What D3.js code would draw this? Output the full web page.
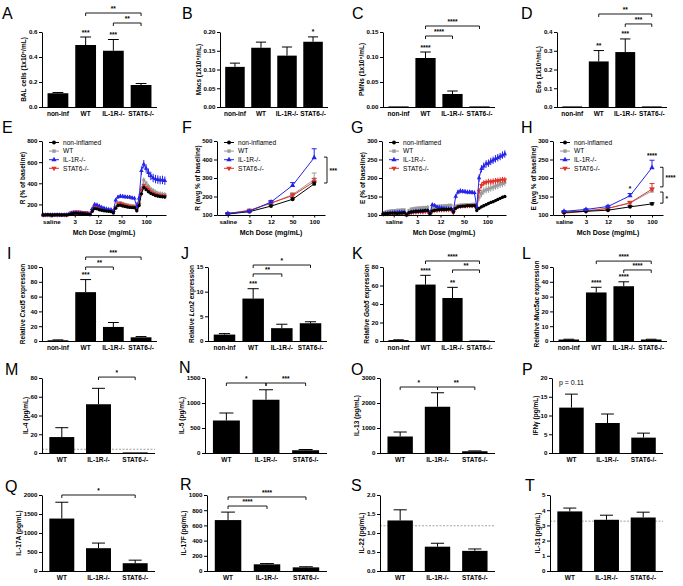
<!DOCTYPE html>
<html><head><meta charset="utf-8">
<script src="https://cdn.jsdelivr.net/npm/d3@7"></script>
<style>body{margin:0;background:#fff}</style>
</head><body><svg id="chart" width="683" height="586"></svg>
<script>
// ---------------- DATA ----------------
const cats4 = ["non-inf", "WT", "IL-1R-/-", "STAT6-/-"];
const cats3 = ["WT", "IL-1R-/-", "STAT6-/-"];
const doses = ["saline", "3", "12", "50", "100"];
const groups = ["non-inflamed", "WT", "IL-1R-/-", "STAT6-/-"];

const balCells = [0.11, 0.496, 0.45, 0.176];
const balCellsErr = [0.006, 0.064, 0.09, 0.012];
const macs = [0.107, 0.158, 0.137, 0.174];
const macsErr = [0.01, 0.015, 0.023, 0.013];
const pmns = [0, 0.098, 0.026, 0.001];
const pmnsErr = [0, 0.012, 0.006, 0];
const eos = [0, 0.243, 0.293, 0];
const eosErr = [0, 0.058, 0.07, 0];

const cxcl5 = [1, 66, 19, 5];
const cxcl5Err = [0.5, 17, 6, 1];
const lcn2 = [1.3, 8.6, 2.6, 3.6];
const lcn2Err = [0.2, 2.0, 0.8, 0.3];
const gob5 = [1, 61, 46.5, 0.3];
const gob5Err = [0.3, 10, 11.5, 0];
const muc5ac = [1, 32.8, 37, 1];
const muc5acErr = [0.2, 3.5, 3, 0.2];

const il4 = [17, 52, 0];          const il4Err = [10, 17, 0];        const il4Lod = 4;
const il5 = [650, 1065, 55];      const il5Err = [150, 200, 15];
const il13 = [660, 1850, 70];     const il13Err = [180, 560, 15];
const ifng = [12.1, 8.0, 4.1];    const ifngErr = [3.6, 2.4, 1.2];
const il17a = [1380, 600, 205];   const il17aErr = [430, 135, 80];
const il17f = [670, 88, 48];      const il17fErr = [105, 10, 8];
const il22 = [1.33, 0.64, 0.53];  const il22Err = [0.28, 0.09, 0.05]; const il22Lod = 1.19;
const il31 = [3.92, 3.37, 3.52];  const il31Err = [0.22, 0.3, 0.35];  const il31Lod = 3.28;

// E: R (% of baseline), continuous recording, 5 dose segments
const eNonInf = [100,101,102,101,100,101,102,101,100,101,
  96,104,110,114,116,115,114,112,110,108,
  104,135,160,158,150,145,140,137,135,132,
  120,165,190,192,185,180,176,172,170,168,
  140,190,300,360,340,320,305,295,285,280,275,272,270];
const eWT = [100,100,101,102,101,100,101,101,102,101,
  98,106,114,118,120,119,117,115,113,112,
  106,140,175,172,162,155,150,146,142,140,
  125,180,215,218,210,202,196,192,188,186,
  150,210,350,430,400,370,345,330,315,305,300,295,292];
const eIL1R = [100,101,102,101,101,100,102,101,101,102,
  98,108,118,122,122,120,118,116,114,112,
  108,160,200,195,185,172,165,158,152,150,
  140,240,270,278,275,272,270,268,262,258,
  180,260,520,580,540,500,470,450,440,435,430,432,425];
const eSTAT6 = [100,101,101,100,102,101,100,101,102,101,
  100,110,122,128,130,129,127,125,122,120,
  106,145,178,175,165,156,150,146,142,139,
  125,170,205,208,200,193,188,183,180,178,
  150,200,330,380,360,340,320,305,295,288,283,280,278];
const eNonInfErr = [2, 3, 5, 6, 12];
const eWTErr = [2, 4, 8, 10, 25];
const eIL1RErr = [2, 4, 10, 18, 40];
const eSTAT6Err = [2, 4, 8, 10, 20];

// G: E (% of baseline)
const gNonInf = [103,104,104,105,105,105,104,105,105,106,
  100,106,108,109,110,110,111,111,112,112,
  104,111,113,114,114,115,115,115,116,116,
  108,118,122,123,124,124,125,125,125,126,
  112,118,122,125,128,131,134,136,139,142,145,148,150];
const gWT = [106,108,110,111,112,112,113,113,114,114,
  102,112,116,117,118,119,119,120,120,121,
  106,120,122,123,124,124,125,125,126,126,
  110,124,126,127,127,128,128,128,129,129,
  120,148,158,165,168,170,173,175,178,180,183,185,188];
const gIL1R = [103,104,105,106,106,107,107,108,108,108,
  100,106,108,109,110,110,111,111,112,112,
  105,128,126,122,120,119,118,118,117,117,
  112,150,162,165,164,163,162,162,161,160,
  122,200,225,232,238,240,245,248,252,255,258,262,265];
const gSTAT6 = [102,103,103,104,104,104,104,105,105,105,
  99,104,106,107,107,108,108,108,109,109,
  103,110,112,112,113,113,113,114,114,114,
  106,118,122,123,124,124,125,125,125,125,
  118,165,180,186,188,190,190,191,192,193,194,195,195];
const gNonInfErr = [1, 2, 2, 3, 4];
const gWTErr = [4, 5, 5, 4, 10];
const gIL1RErr = [1, 2, 3, 6, 10];
const gSTAT6Err = [1, 2, 2, 3, 8];

// F: R (avg % of baseline)
const fNonInf = [105, 118, 148, 185, 268]; const fNonInfErr = [3, 4, 6, 8, 10];
const fWT = [107, 125, 163, 210, 292];     const fWTErr = [3, 4, 7, 10, 35];
const fIL1R = [108, 120, 170, 260, 410];   const fIL1RErr = [3, 5, 8, 15, 48];
const fSTAT6 = [108, 125, 165, 205, 280];  const fSTAT6Err = [3, 4, 7, 10, 18];
// H: E (avg % of baseline)
const hNonInf = [107, 110, 113, 122, 130]; const hNonInfErr = [2, 2, 2, 3, 3];
const hWT = [108, 112, 118, 132, 165];     const hWTErr = [2, 2, 3, 4, 8];
const hIL1R = [110, 115, 123, 152, 228];   const hIL1RErr = [2, 2, 3, 6, 20];
const hSTAT6 = [105, 110, 118, 133, 170];  const hSTAT6Err = [2, 2, 3, 4, 15];

// ---------------- DRAWING ----------------
const svg = d3.select("#chart");
const FF = "'Liberation Sans', Arial, sans-serif";
const COL = ["#000000", "#9b9b9b", "#2424e8", "#e2322c"];
const SYM = [d3.symbolCircle, d3.symbolSquare, d3.symbolTriangle, d3.symbolTriangle];
const ROT = [0, 0, 0, 180];

function axisStyle(sel) {
  sel.attr("font-family", FF).attr("font-size", 6.2).attr("font-weight", "bold");
  sel.selectAll("path,line").attr("stroke", "#000").attr("stroke-width", 1);
  sel.selectAll("text").attr("fill", "#000");
}
function letter(t, x, y) {
  svg.append("text").attr("x", x).attr("y", y).attr("font-family", FF)
    .attr("font-size", 16).attr("fill", "#000").text(t);
}
function yTitle(parts, axisG, x0, yt, yb) {
  const bb = axisG.node().getBBox();
  const tx = x0 + bb.x - 2.5, cy = (yt + yb) / 2;
  const t = svg.append("text").attr("transform", `translate(${tx},${cy}) rotate(-90)`)
    .attr("text-anchor", "middle").attr("font-family", FF).attr("font-size", 6.5)
    .attr("font-weight", "bold").attr("fill", "#000");
  parts.forEach(p => {
    const s = t.append("tspan").text(p.t);
    if (p.i) s.attr("font-style", "italic");
  });
}
function starText(g, x, y, s) {
  g.append("text").attr("x", x).attr("y", y).attr("text-anchor", "middle")
    .attr("font-family", FF).attr("font-size", 6.5).attr("font-weight", "bold").attr("fill", "#000").text(s);
}

function drawBar(p) {
  const g = svg.append("g");
  const x = d3.scaleBand().domain(p.cats).range([p.x0, p.x1])
    .paddingInner(p.cats.length === 4 ? 0.25 : 0.32).paddingOuter(0.2);
  const y = d3.scaleLinear().domain(p.dom).range([p.yb, p.yt]);
  const bw = x.bandwidth();
  if (p.lod !== undefined) {
    g.append("line").attr("x1", p.x0).attr("x2", p.x1).attr("y1", y(p.lod)).attr("y2", y(p.lod))
      .attr("stroke", "#8a8a8a").attr("stroke-width", 0.8).attr("stroke-dasharray", "2,1.5");
  }
  g.selectAll("rect.bar").data(p.vals).join("rect").attr("class", "bar")
    .attr("x", (d, i) => x(p.cats[i])).attr("width", bw)
    .attr("y", d => Math.min(y(d), p.yb - 0.6)).attr("height", d => Math.max(0.6, y(0) - y(d)))
    .attr("fill", "#000");
  p.vals.forEach((v, i) => {
    const cx = x(p.cats[i]) + bw / 2;
    const e = p.errs[i];
    let top = y(v);
    if (e > 0) {
      top = y(v + e);
      g.append("line").attr("x1", cx).attr("x2", cx).attr("y1", y(v)).attr("y2", top).attr("stroke", "#000");
      g.append("line").attr("x1", cx - bw * 0.26).attr("x2", cx + bw * 0.26).attr("y1", top).attr("y2", top).attr("stroke", "#000");
    }
    if (p.stars && p.stars[i]) starText(g, cx, top - 2.5, p.stars[i]);
  });
  (p.brackets || []).forEach(b => {
    const xa = x(b.from) + bw / 2, xb = x(b.to) + bw / 2, yy = y(b.level);
    g.append("path").attr("d", `M${xa},${yy + 3}V${yy}H${xb}V${yy + 3}`)
      .attr("fill", "none").attr("stroke", "#000").attr("stroke-width", 0.9);
    starText(g, (xa + xb) / 2, yy - 2, b.label);
  });
  if (p.note) {
    g.append("text").attr("x", x(p.note.at) + bw / 2).attr("y", y(p.note.level)).attr("text-anchor", "middle")
      .attr("font-family", FF).attr("font-size", 7).attr("fill", "#000").text(p.note.text);
  }
  const ya = g.append("g").attr("transform", `translate(${p.x0},0)`)
    .call(d3.axisLeft(y).tickValues(p.ticks).tickFormat(p.fmt).tickSize(3).tickSizeOuter(0).tickPadding(1.5));
  axisStyle(ya);
  g.append("line").attr("x1", p.x0).attr("x2", p.x1).attr("y1", p.yb + 0.5).attr("y2", p.yb + 0.5).attr("stroke", "#000");
  p.cats.forEach(c => {
    g.append("text").attr("x", x(c) + bw / 2).attr("y", p.yb + 8.5).attr("text-anchor", "middle")
      .attr("font-family", FF).attr("font-size", 6.5).attr("font-weight", "bold").attr("fill", "#000").text(c);
  });
  yTitle(p.title, ya, p.x0, p.yt, p.yb);
  letter(p.letter, p.lx, p.ly);
}

function marker(sel, i, size) {
  sel.attr("d", d3.symbol().type(SYM[i]).size(size)).attr("fill", COL[i]);
}
function legend(p) {
  groups.forEach((gname, i) => {
    const yy = p.yt + 1.5 + i * 8.6, lx = p.x0 + 7;
    svg.append("line").attr("x1", lx).attr("x2", lx + 10).attr("y1", yy).attr("y2", yy)
      .attr("stroke", COL[i]).attr("stroke-width", 1);
    svg.append("path").call(marker, i, 12).attr("transform", `translate(${lx + 5},${yy}) rotate(${ROT[i]})`);
    svg.append("text").attr("x", lx + 14).attr("y", yy + 2.3).attr("font-family", FF)
      .attr("font-size", 6.6).attr("fill", "#000").text(gname);
  });
}

function drawDense(p) {
  const g = svg.append("g");
  const N = p.series[0].vals.length;
  const x = d3.scaleLinear().domain([-0.5, N - 0.5]).range([p.x0, p.x1]);
  const y = d3.scaleLinear().domain(p.dom).range([p.yb, p.yt]).clamp(true);
  const seg = i => Math.min(4, Math.floor(i / 10));
  [1, 3, 2, 0].forEach(k => {
    const s = p.series[k];
    s.vals.forEach((v, i) => {
      const e = s.errs[seg(i)];
      g.append("line").attr("x1", x(i)).attr("x2", x(i)).attr("y1", y(v - e)).attr("y2", y(v + e))
        .attr("stroke", COL[k]).attr("stroke-width", 1);
    });
    g.append("path").datum(s.vals).attr("fill", "none").attr("stroke", COL[k]).attr("stroke-width", 1)
      .attr("d", d3.line().x((d, i) => x(i)).y(d => y(d)));
    g.selectAll(null).data(s.vals).join("path").call(marker, k, 9)
      .attr("transform", (d, i) => `translate(${x(i)},${y(d)}) rotate(${ROT[k]})`);
  });
  const ya = g.append("g").attr("transform", `translate(${p.x0},0)`)
    .call(d3.axisLeft(y).tickValues(p.ticks).tickSize(3).tickSizeOuter(0).tickPadding(1.5));
  axisStyle(ya);
  const xa = g.append("g").attr("transform", `translate(0,${p.yb})`)
    .call(d3.axisBottom(x).tickValues(p.doseIdx).tickFormat((d, i) => doses[i]).tickSize(2.5).tickSizeOuter(0).tickPadding(2));
  axisStyle(xa);
  xAxisTitle(p);
  yTitle(p.title, ya, p.x0, p.yt, p.yb);
  legend(p);
  letter(p.letter, p.lx, p.ly);
}
function xAxisTitle(p) {
  svg.append("text").attr("x", (p.x0 + p.x1) / 2).attr("y", p.yb + 19.5).attr("text-anchor", "middle")
    .attr("font-family", FF).attr("font-size", 7).attr("font-weight", "bold").attr("fill", "#000").text("Mch Dose (mg/mL)");
}

function drawLine(p) {
  const g = svg.append("g");
  const x = d3.scalePoint().domain(doses).range([p.x0, p.x1]).padding(0.5);
  const y = d3.scaleLinear().domain(p.dom).range([p.yb, p.yt]);
  [1, 3, 0, 2].forEach(k => {
    const s = p.series[k];
    s.vals.forEach((v, i) => {
      const cx = x(doses[i]), t = y(v + s.errs[i]);
      g.append("line").attr("x1", cx).attr("x2", cx).attr("y1", y(v)).attr("y2", t).attr("stroke", COL[k]);
      g.append("line").attr("x1", cx - 2.5).attr("x2", cx + 2.5).attr("y1", t).attr("y2", t).attr("stroke", COL[k]);
    });
    g.append("path").datum(s.vals).attr("fill", "none").attr("stroke", COL[k]).attr("stroke-width", 1)
      .attr("d", d3.line().x((d, i) => x(doses[i])).y(d => y(d)));
    g.selectAll(null).data(s.vals).join("path").call(marker, k, 12)
      .attr("transform", (d, i) => `translate(${x(doses[i])},${y(d)}) rotate(${ROT[k]})`);
  });
  (p.stars || []).forEach(st => starText(g, x(st.at), y(st.level), st.label));
  (p.brackets || []).forEach(b => {
    const bx = p.x1 + p.bOff, ya1 = y(b.hi), ya2 = y(b.lo);
    g.append("path").attr("d", `M${bx - 3},${ya1}H${bx}V${ya2}H${bx - 3}`)
      .attr("fill", "none").attr("stroke", "#000").attr("stroke-width", 0.9);
    g.append("text").attr("x", bx + 2.5).attr("y", (ya1 + ya2) / 2 + 3).attr("font-family", FF)
      .attr("font-size", 6.5).attr("font-weight", "bold").attr("fill", "#000").text(b.label);
  });
  const ya = g.append("g").attr("transform", `translate(${p.x0},0)`)
    .call(d3.axisLeft(y).tickValues(p.ticks).tickSize(3).tickSizeOuter(0).tickPadding(1.5));
  axisStyle(ya);
  const xa = g.append("g").attr("transform", `translate(0,${p.yb})`)
    .call(d3.axisBottom(x).tickSize(2.5).tickSizeOuter(0).tickPadding(2));
  axisStyle(xa);
  xAxisTitle(p);
  yTitle(p.title, ya, p.x0, p.yt, p.yb);
  legend(p);
  letter(p.letter, p.lx, p.ly);
}

const f1 = d3.format(".1f"), f2 = d3.format(".2f"), fd = d3.format("d");
const R1 = {yt: 32, yb: 107}, R2 = {yt: 141, yb: 215}, R3 = {yt: 267, yb: 341}, R4 = {yt: 378, yb: 453}, R5 = {yt: 495, yb: 571};
const T = t => [{t}];

// Row 1
drawBar({...R1, x0: 42, x1: 157, cats: cats4, vals: balCells, errs: balCellsErr, dom: [0, 0.6], ticks: [0, 0.2, 0.4, 0.6], fmt: f1,
  title: T("BAL cells (1x10⁶/mL)"), stars: ["", "***", "***", ""],
  brackets: [{from: "WT", to: "STAT6-/-", level: 0.752, label: "**"}, {from: "IL-1R-/-", to: "STAT6-/-", level: 0.672, label: "**"}],
  letter: "A", lx: 2, ly: 18.5});
drawBar({...R1, x0: 220, x1: 328, cats: cats4, vals: macs, errs: macsErr, dom: [0, 0.2], ticks: [0, 0.05, 0.1, 0.15, 0.2], fmt: f2,
  title: T("Macs (1x10⁶/mL)"), stars: ["", "", "", "*"], letter: "B", lx: 182, ly: 18.5});
drawBar({...R1, x0: 383, x1: 495, cats: cats4, vals: pmns, errs: pmnsErr, dom: [0, 0.15], ticks: [0, 0.05, 0.1, 0.15], fmt: f2,
  title: T("PMNs (1x10⁶/mL)"), stars: ["", "****", "", ""],
  brackets: [{from: "WT", to: "STAT6-/-", level: 0.162, label: "****"}, {from: "WT", to: "IL-1R-/-", level: 0.142, label: "****"}],
  letter: "C", lx: 352, ly: 18.5});
drawBar({...R1, x0: 557, x1: 667, cats: cats4, vals: eos, errs: eosErr, dom: [0, 0.4], ticks: [0, 0.1, 0.2, 0.3, 0.4], fmt: f1,
  title: T("Eos (1x10⁶/mL)"), stars: ["", "**", "***", ""],
  brackets: [{from: "WT", to: "STAT6-/-", level: 0.496, label: "**"}, {from: "IL-1R-/-", to: "STAT6-/-", level: 0.443, label: "***"}],
  letter: "D", lx: 521, ly: 18.5});

// Row 2
const mk = (a, ae, b, be, c, ce, d, de) => [{vals: a, errs: ae}, {vals: b, errs: be}, {vals: c, errs: ce}, {vals: d, errs: de}];
drawDense({...R2, x0: 42, x1: 166, dom: [100, 800], ticks: [200, 400, 600, 800], doseIdx: [3.5, 13.5, 23.5, 33.5, 44],
  series: mk(eNonInf, eNonInfErr, eWT, eWTErr, eIL1R, eIL1RErr, eSTAT6, eSTAT6Err),
  title: T("R (% of baseline)"), letter: "E", lx: 2, ly: 133});
drawLine({...R2, x0: 217, x1: 325, dom: [100, 500], ticks: [100, 200, 300, 400, 500],
  series: mk(fNonInf, fNonInfErr, fWT, fWTErr, fIL1R, fIL1RErr, fSTAT6, fSTAT6Err),
  brackets: [{hi: 413, lo: 273, label: "***"}], bOff: 2,
  title: T("R (avg % of baseline)"), letter: "F", lx: 182, ly: 133});
drawDense({...R2, x0: 382, x1: 506, dom: [100, 300], ticks: [100, 150, 200, 250, 300], doseIdx: [4.5, 14.5, 24.5, 34.5, 44.5],
  series: mk(gNonInf, gNonInfErr, gWT, gWTErr, gIL1R, gIL1RErr, gSTAT6, gSTAT6Err),
  title: T("E (% of baseline)"), letter: "G", lx: 351, ly: 133});
drawLine({...R2, x0: 553, x1: 663, dom: [100, 300], ticks: [100, 150, 200, 250, 300],
  series: mk(hNonInf, hNonInfErr, hWT, hWTErr, hIL1R, hIL1RErr, hSTAT6, hSTAT6Err),
  stars: [{at: "50", level: 165, label: "*"}, {at: "100", level: 255, label: "****"}],
  brackets: [{hi: 229, lo: 176, label: "****"}, {hi: 162, lo: 132, label: "*"}], bOff: 0,
  title: T("E (avg % of baseline)"), letter: "H", lx: 521, ly: 133});

// Row 3
drawBar({...R3, x0: 42, x1: 157, cats: cats4, vals: cxcl5, errs: cxcl5Err, dom: [0, 100], ticks: [0, 20, 40, 60, 80, 100], fmt: fd,
  title: [{t: "Relative "}, {t: "Cxcl5", i: true}, {t: " expression"}], stars: ["", "***", "", ""],
  brackets: [{from: "WT", to: "STAT6-/-", level: 113.5, label: "***"}, {from: "WT", to: "IL-1R-/-", level: 100, label: "**"}],
  letter: "I", lx: 7, ly: 259});
drawBar({...R3, x0: 208, x1: 327, cats: cats4, vals: lcn2, errs: lcn2Err, dom: [0, 15], ticks: [0, 5, 10, 15], fmt: fd,
  title: [{t: "Relative "}, {t: "Lcn2", i: true}, {t: " expression"}], stars: ["", "***", "", ""],
  brackets: [{from: "WT", to: "STAT6-/-", level: 15.4, label: "*"}, {from: "WT", to: "IL-1R-/-", level: 13.6, label: "**"}],
  letter: "J", lx: 181, ly: 259});
drawBar({...R3, x0: 383, x1: 495, cats: cats4, vals: gob5, errs: gob5Err, dom: [0, 80], ticks: [0, 20, 40, 60, 80], fmt: fd,
  title: [{t: "Relative "}, {t: "Gob5", i: true}, {t: " expression"}], stars: ["", "****", "**", ""],
  brackets: [{from: "WT", to: "STAT6-/-", level: 86.5, label: "****"}, {from: "IL-1R-/-", to: "STAT6-/-", level: 76.8, label: "**"}],
  letter: "K", lx: 352, ly: 259});
drawBar({...R3, x0: 553, x1: 667, cats: cats4, vals: muc5ac, errs: muc5acErr, dom: [0, 50], ticks: [0, 10, 20, 30, 40, 50], fmt: fd,
  title: [{t: "Relative "}, {t: "Muc5ac", i: true}, {t: " expression"}], stars: ["", "****", "****", ""],
  brackets: [{from: "WT", to: "STAT6-/-", level: 54, label: "****"}, {from: "IL-1R-/-", to: "STAT6-/-", level: 48, label: "****"}],
  letter: "L", lx: 522, ly: 259});

// Row 4
drawBar({...R4, x0: 42, x1: 155, cats: cats3, vals: il4, errs: il4Err, lod: il4Lod, dom: [0, 80], ticks: [0, 20, 40, 60, 80], fmt: fd,
  title: T("IL-4 (pg/mL)"), brackets: [{from: "IL-1R-/-", to: "STAT6-/-", level: 81, label: "*"}],
  letter: "M", lx: 5, ly: 375});
drawBar({...R4, x0: 205, x1: 327, cats: cats3, vals: il5, errs: il5Err, dom: [0, 1500], ticks: [0, 500, 1000, 1500], fmt: fd,
  title: T("IL-5 (pg/mL)"),
  brackets: [{from: "WT", to: "IL-1R-/-", level: 1400, label: "*"}, {from: "IL-1R-/-", to: "STAT6-/-", level: 1400, label: "***"}],
  letter: "N", lx: 179, ly: 373});
drawBar({...R4, x0: 380, x1: 495, cats: cats3, vals: il13, errs: il13Err, dom: [0, 3000], ticks: [0, 1000, 2000, 3000], fmt: fd,
  title: T("IL-13 (pg/mL)"),
  brackets: [{from: "WT", to: "IL-1R-/-", level: 2640, label: "*"}, {from: "IL-1R-/-", to: "STAT6-/-", level: 2640, label: "**"}],
  letter: "O", lx: 351, ly: 375});
drawBar({...R4, x0: 552, x1: 663, cats: cats3, vals: ifng, errs: ifngErr, dom: [0, 20], ticks: [0, 5, 10, 15, 20], fmt: fd,
  title: T("IFNγ (pg/mL)"), note: {at: "WT", level: 18.1, text: "p = 0.11"},
  letter: "P", lx: 522, ly: 375});

// Row 5
drawBar({...R5, x0: 42, x1: 155, cats: cats3, vals: il17a, errs: il17aErr, dom: [0, 2000], ticks: [0, 500, 1000, 1500, 2000], fmt: fd,
  title: T("IL-17A (pg/mL)"), brackets: [{from: "WT", to: "STAT6-/-", level: 2000, label: "*"}],
  letter: "Q", lx: 5, ly: 492});
drawBar({...R5, x0: 207, x1: 327, cats: cats3, vals: il17f, errs: il17fErr, dom: [0, 1000], ticks: [0, 200, 400, 600, 800, 1000], fmt: fd,
  title: T("IL-17F (pg/mL)"),
  brackets: [{from: "WT", to: "STAT6-/-", level: 974, label: "****"}, {from: "WT", to: "IL-1R-/-", level: 855, label: "****"}],
  letter: "R", lx: 180, ly: 490});
drawBar({...R5, x0: 380, x1: 495, cats: cats3, vals: il22, errs: il22Err, lod: il22Lod, dom: [0, 2], ticks: [0, 0.5, 1, 1.5, 2], fmt: f1,
  title: T("IL-22 (pg/mL)"), letter: "S", lx: 351, ly: 491});
drawBar({...R5, x0: 550, x1: 663, cats: cats3, vals: il31, errs: il31Err, lod: il31Lod, dom: [0, 5], ticks: [0, 1, 2, 3, 4, 5], fmt: fd,
  title: T("IL-31 (pg/mL)"), letter: "T", lx: 525, ly: 491});
</script></body></html>
